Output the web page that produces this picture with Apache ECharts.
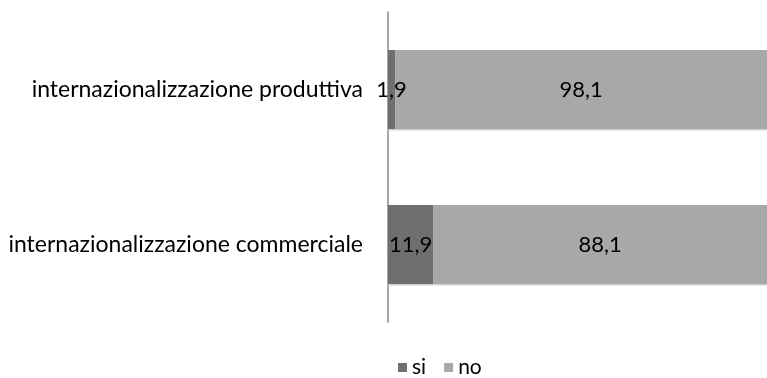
<!DOCTYPE html>
<html>
<head>
<meta charset="utf-8">
<script src="https://cdn.jsdelivr.net/npm/echarts@6/dist/echarts.min.js"></script>
<style>
  html, body { margin: 0; padding: 0; background: #fff; }
  #chart { width: 767px; height: 378px; }
</style>
</head>
<body>
<div id="chart"></div>
<script>
// Categories listed bottom to top on the vertical axis
const categories = ['internazionalizzazione commerciale', 'internazionalizzazione produttiva'];
const siValues = [11.9, 1.9];
const noValues = [88.1, 98.1];
const seriesNames = ['si', 'no'];

const FONT = 'Lato, "Open Sans", sans-serif';
const fmt = p => String(p.value).replace('.', ',');

const chart = echarts.init(document.getElementById('chart'));
chart.setOption({
  animation: false,
  textStyle: { fontFamily: FONT },
  grid: { left: 388, top: 12, width: 388, height: 310, containLabel: false },
  xAxis: {
    type: 'value', min: 0, max: 100,
    show: false
  },
  yAxis: {
    type: 'category',
    data: categories,
    axisLine: { show: true, lineStyle: { color: '#868686', width: 1.5 } },
    axisTick: { show: false },
    axisLabel: { color: '#000', fontSize: 23, margin: 25, fontFamily: FONT }
  },
  legend: {
    data: seriesNames,
    left: 393, top: 352,
    itemWidth: 9, itemHeight: 9, itemGap: 18,
    icon: 'rect',
    textStyle: { color: '#000', fontSize: 21, fontFamily: FONT, padding: [0, 0, 0, 0] }
  },
  series: [
    {
      name: seriesNames[0], type: 'bar', stack: 'tot', data: siValues,
      barWidth: '51%',
      itemStyle: { color: '#6f6f6f', shadowColor: '#cfcfcf', shadowOffsetY: 1.5 },
      label: { show: true, position: 'inside', color: '#000', fontSize: 22, fontFamily: FONT, formatter: fmt }
    },
    {
      name: seriesNames[1], type: 'bar', stack: 'tot', data: noValues,
      barWidth: '51%',
      itemStyle: { color: '#a8a8a8', shadowColor: '#cfcfcf', shadowOffsetY: 1.5 },
      label: { show: true, position: 'inside', color: '#000', fontSize: 22, fontFamily: FONT, formatter: fmt }
    }
  ]
});
</script>
</body>
</html>
